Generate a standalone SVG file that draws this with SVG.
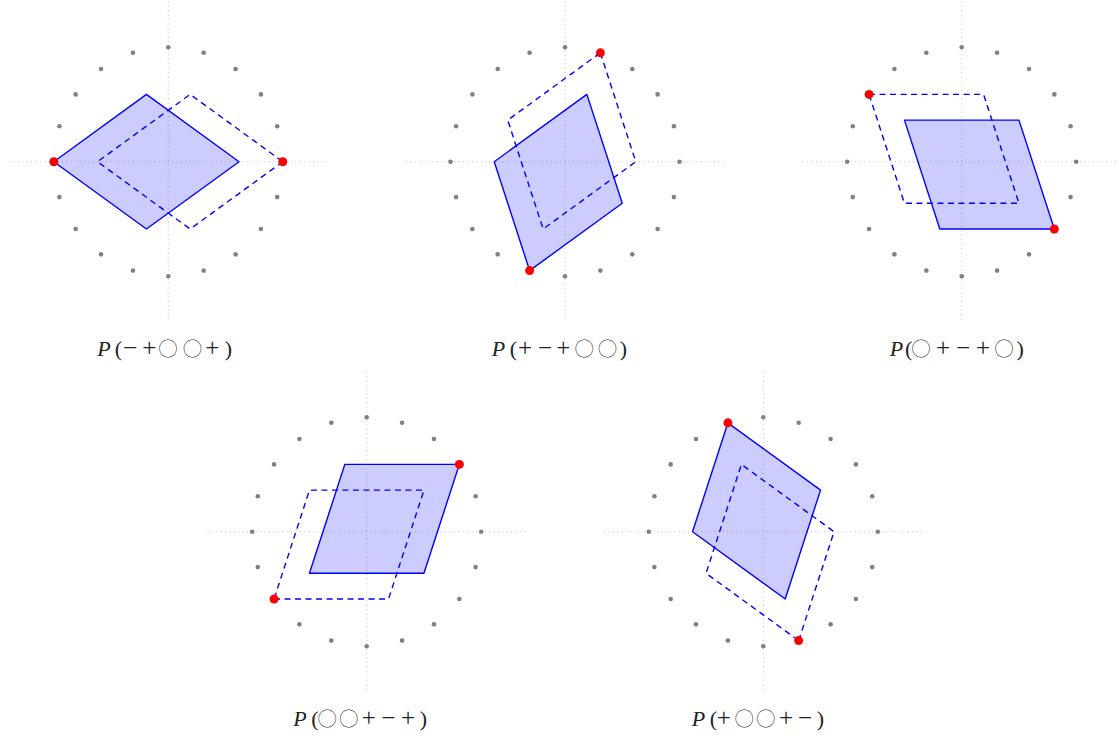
<svg xmlns="http://www.w3.org/2000/svg" width="1119" height="736" viewBox="0 0 1119 736">
<style>
.ax{stroke:#9a9a9a;stroke-width:0.8;stroke-dasharray:0.8 3.6;fill:none}
.gd{fill:#808080}
.fp{fill:#0000ff;fill-opacity:0.2;stroke:#0000ff;stroke-width:1.4;stroke-linejoin:round}
.dp{fill:none;stroke:#0000ff;stroke-width:1.4;stroke-dasharray:6 4.5;stroke-linejoin:round}
.rd{fill:#ff0000}
.lb{font-family:"Liberation Serif",serif;font-size:22px;fill:#222;text-anchor:middle}
.it{font-style:italic;text-anchor:start}
.op{font-size:25px}
.ci{font-family:"Noto Sans CJK SC","DejaVu Sans",sans-serif;font-size:19px;font-weight:300}
</style>
<defs>
<g id="dial">
<line class="ax" x1="-159" y1="0" x2="159" y2="0"/>
<line class="ax" x1="0" y1="-160" x2="0" y2="159"/>
<g class="gd">
<circle cx="114.5" cy="0" r="2.3"/>
<circle cx="108.89" cy="-35.38" r="2.3"/>
<circle cx="92.63" cy="-67.3" r="2.3"/>
<circle cx="67.3" cy="-92.63" r="2.3"/>
<circle cx="35.38" cy="-108.89" r="2.3"/>
<circle cx="0" cy="-114.5" r="2.3"/>
<circle cx="-35.38" cy="-108.89" r="2.3"/>
<circle cx="-67.3" cy="-92.63" r="2.3"/>
<circle cx="-92.63" cy="-67.3" r="2.3"/>
<circle cx="-108.89" cy="-35.38" r="2.3"/>
<circle cx="-114.5" cy="0" r="2.3"/>
<circle cx="-108.89" cy="35.38" r="2.3"/>
<circle cx="-92.63" cy="67.3" r="2.3"/>
<circle cx="-67.3" cy="92.63" r="2.3"/>
<circle cx="-35.38" cy="108.89" r="2.3"/>
<circle cx="0" cy="114.5" r="2.3"/>
<circle cx="35.38" cy="108.89" r="2.3"/>
<circle cx="67.3" cy="92.63" r="2.3"/>
<circle cx="92.63" cy="67.3" r="2.3"/>
<circle cx="108.89" cy="35.38" r="2.3"/>
</g>
</g>
</defs>
<rect width="1119" height="736" fill="#ffffff"/>

<g id="panel1" transform="translate(168.3,161.7)">
<use href="#dial"/>
<polygon class="fp" points="-114.5,0 -21.87,-67.3 70.76,0 -21.87,67.3"/>
<polygon class="dp" points="114.5,0 21.87,67.3 -70.76,0 21.87,-67.3"/>
<circle class="rd" cx="-114.5" cy="0" r="4.5"/>
<circle class="rd" cx="114.5" cy="0" r="4.5"/>
<text class="lb" y="194"><tspan class="it" x="-71">P</tspan><tspan x="-49.9">(</tspan><tspan class="op" x="-38.3">−</tspan><tspan class="op" x="-19.1">+</tspan><tspan class="ci" x="-0.4">◯</tspan><tspan class="ci" x="24.2">◯</tspan><tspan class="op" x="43.9">+</tspan><tspan x="60">)</tspan></text>
</g>

<g id="panel2" transform="translate(565,161.7)">
<use href="#dial"/>
<polygon class="fp" points="-35.38,108.89 -70.76,0 21.87,-67.3 57.25,41.59"/>
<polygon class="dp" points="35.38,-108.89 70.76,0 -21.87,67.3 -57.25,-41.59"/>
<circle class="rd" cx="-35.38" cy="108.89" r="4.5"/>
<circle class="rd" cx="35.38" cy="-108.89" r="4.5"/>
<text class="lb" y="194"><tspan class="it" x="-73.3">P</tspan><tspan x="-51.7">(</tspan><tspan class="op" x="-40">+</tspan><tspan class="op" x="-20">−</tspan><tspan class="op" x="-1.7">+</tspan><tspan class="ci" x="19.2">◯</tspan><tspan class="ci" x="42.5">◯</tspan><tspan x="58.3">)</tspan></text>
</g>

<g id="panel3" transform="translate(961.7,161.7)">
<use href="#dial"/>
<polygon class="fp" points="92.63,67.3 -21.87,67.3 -57.25,-41.59 57.25,-41.59"/>
<polygon class="dp" points="-92.63,-67.3 21.87,-67.3 57.25,41.59 -57.25,41.59"/>
<circle class="rd" cx="92.63" cy="67.3" r="4.5"/>
<circle class="rd" cx="-92.63" cy="-67.3" r="4.5"/>
<text class="lb" y="194"><tspan class="it" x="-72">P</tspan><tspan x="-53">(</tspan><tspan class="ci" x="-40.6">◯</tspan><tspan class="op" x="-18.6">+</tspan><tspan class="op" x="1.4">−</tspan><tspan class="op" x="21.4">+</tspan><tspan class="ci" x="42.2">◯</tspan><tspan x="58.6">)</tspan></text>
</g>

<g id="panel4" transform="translate(366.7,531.7)">
<use href="#dial"/>
<polygon class="fp" points="92.63,-67.3 -21.87,-67.3 -57.25,41.59 57.25,41.59"/>
<polygon class="dp" points="-92.63,67.3 21.87,67.3 57.25,-41.59 -57.25,-41.59"/>
<circle class="rd" cx="92.63" cy="-67.3" r="4.5"/>
<circle class="rd" cx="-92.63" cy="67.3" r="4.5"/>
<text class="lb" y="194"><tspan class="it" x="-73.4">P</tspan><tspan x="-51.7">(</tspan><tspan class="ci" x="-39.5">◯</tspan><tspan class="ci" x="-18">◯</tspan><tspan class="op" x="2">+</tspan><tspan class="op" x="21.6">−</tspan><tspan class="op" x="41.4">+</tspan><tspan x="56.8">)</tspan></text>
</g>

<g id="panel5" transform="translate(763.3,531.7)">
<use href="#dial"/>
<polygon class="fp" points="-35.38,-108.89 -70.76,0 21.87,67.3 57.25,-41.59"/>
<polygon class="dp" points="35.38,108.89 70.76,0 -21.87,-67.3 -57.25,41.59"/>
<circle class="rd" cx="-35.38" cy="-108.89" r="4.5"/>
<circle class="rd" cx="35.38" cy="108.89" r="4.5"/>
<text class="lb" y="194"><tspan class="it" x="-71.6">P</tspan><tspan x="-50">(</tspan><tspan class="op" x="-39.6">+</tspan><tspan class="ci" x="-19.1">◯</tspan><tspan class="ci" x="2.5">◯</tspan><tspan class="op" x="22.7">+</tspan><tspan class="op" x="41.7">−</tspan><tspan x="57">)</tspan></text>
</g>
</svg>
